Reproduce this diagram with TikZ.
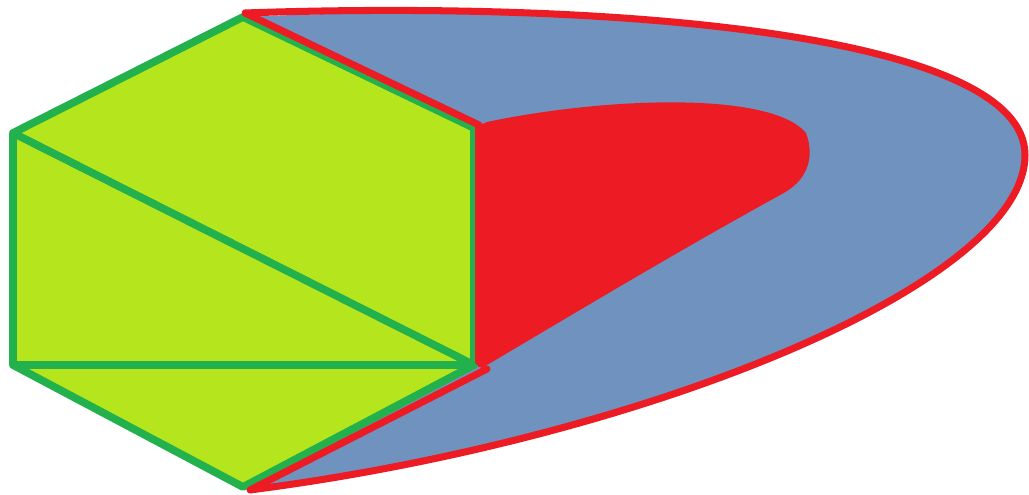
\documentclass[tikz,border=0pt]{standalone}
\usepackage{tikz}
\definecolor{paintred}{RGB}{237,28,36}
\definecolor{paintblue}{RGB}{112,146,190}
\definecolor{paintlime}{RGB}{181,230,29}
\definecolor{paintgreen}{RGB}{34,177,76}
\tikzset{
  outline/.style = {draw=paintred, line width=2pt, line join=round},
  hexedge/.style = {draw=paintgreen, line width=2.2pt, line join=round},
  rededge/.style = {draw=paintred, line width=2pt, line cap=round}
}

\begin{document}
\begin{tikzpicture}[x=0.01cm, y=-0.01cm]
\useasboundingbox (0,0) rectangle (1029,495);

% hexagon corners
\coordinate (top) at (243,17);
\coordinate (ur) at (474,128);
\coordinate (lr) at (474,365);
\coordinate (bot) at (243,487);
\coordinate (ll) at (13,365);
\coordinate (ul) at (13,133);

% blue shell
\fill[paintblue] (top) .. controls (620,0) and (1025,35) .. (1025,155)
  .. controls (1025,285) and (640,440) .. (250,490) -- (lr) -- (ur) -- cycle;
\draw[outline] (245,13) .. controls (620,0) and (1025,35) .. (1025,155)
  .. controls (1025,285) and (640,440) .. (250,490);

% red core
\fill[paintred] (ur) -- (487,122) .. controls (600,98) and (770,90) .. (806,133)
  .. controls (816,160) and (805,182) .. (782,194)
  .. controls (680,250) and (580,310) .. (482,368) -- (lr) -- cycle;

% hexagon
\fill[paintlime] (top) -- (ur) -- (lr) -- (bot) -- (ll) -- (ul) -- cycle;
\draw[hexedge] (top) -- (ur) -- (lr) -- (bot) -- (ll) -- (ul) -- cycle;
\draw[hexedge] (ul) -- (lr) -- (ll);

% red borders on the right side
\draw[rededge] (245,13) -- (479,125);
\draw[rededge] (479,126) -- (479,362);
\draw[rededge] (487,369) -- (250,490);

\end{tikzpicture}
\end{document}
